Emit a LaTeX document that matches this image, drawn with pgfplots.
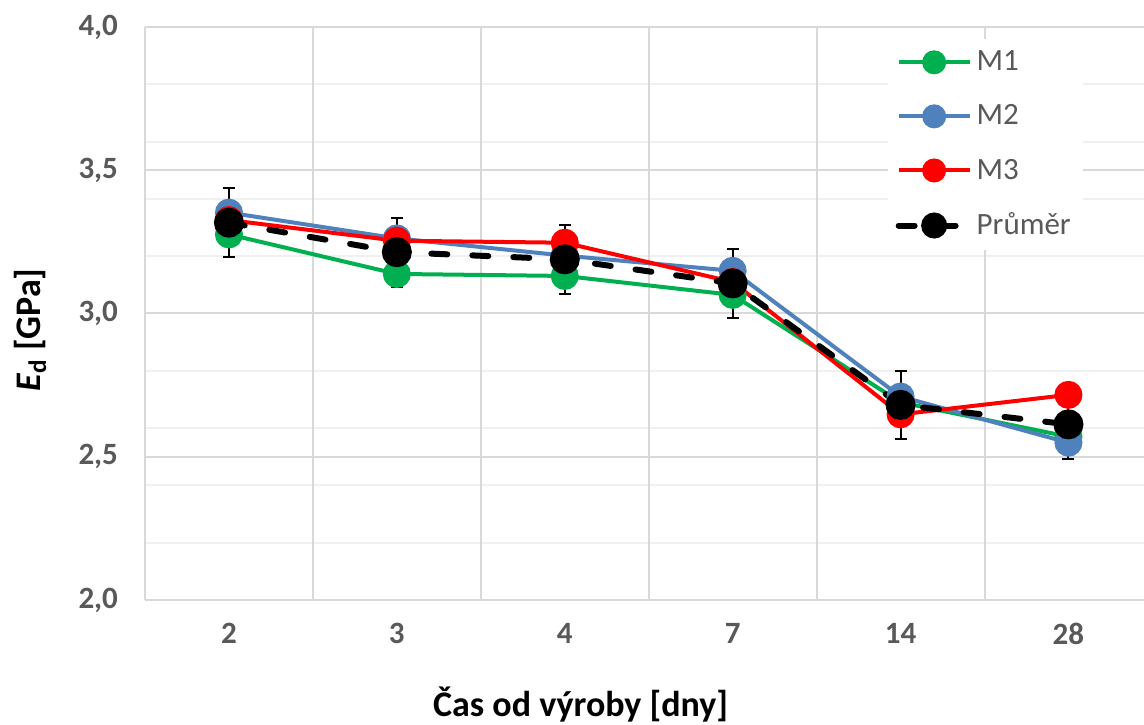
\documentclass[border=0pt]{standalone}
\usepackage{fontspec}
\setmainfont{Carlito}
\usepackage{pgfplots}
\pgfplotsset{compat=1.18}
\definecolor{cM1}{HTML}{00B050}
\definecolor{cM2}{HTML}{4F81BD}
\definecolor{cM3}{HTML}{FF0000}
\definecolor{txt}{HTML}{595959}
\definecolor{grd}{HTML}{D9D9D9}
\definecolor{grdm}{HTML}{F0F0F0}

\begin{document}
\begin{tikzpicture}
\begin{axis}[
    scale only axis,
    width=499.5pt, height=286.5pt,
    xmin=-0.5, xmax=5.45,
    ymin=2, ymax=4,
    axis x line*=bottom, axis y line*=left,
    axis line style={draw=grd, line width=1pt, -},
    tick style={draw=none},
    xtick={0,...,5},
    xticklabels={2,3,4,7,14,28},
    ytick={2,2.5,3,3.5,4},
    yticklabels={{2,0},{2,5},{3,0},{3,5},{4,0}},
    minor ytick={2.2,2.4,2.6,2.8,3.2,3.4,3.6,3.8},
    ymajorgrids=true, yminorgrids=true,
    major grid style={draw=grd, line width=1pt},
    minor grid style={draw=grdm, line width=1pt},
    extra x ticks={0.5,1.5,2.5,3.5,4.5},
    extra x tick labels={},
    extra x tick style={xmajorgrids=true, major grid style={draw=grd, line width=1pt}},
    ticklabel style={font=\fontsize{15.5}{18}\selectfont\bfseries, text=txt},
    xticklabel style={yshift=-8pt},
    yticklabel style={xshift=-10pt},
    xlabel={Čas od výroby [dny]},
    ylabel={\textit{E}\textsubscript{d} [GPa]},
    label style={font=\fontsize{18}{21}\selectfont\bfseries, text=black},
    xlabel style={at={(rel axis cs:0.436,-0.182)}, anchor=center},
    ylabel style={at={(rel axis cs:-0.115,0.471)}, anchor=center, rotate=0},
    legend cell align=left,
    legend style={
        at={(rel axis cs:0.743,0.98)}, anchor=north west,
        draw=none, fill=white,
        font=\fontsize{15.5}{18}\selectfont, text=txt,
        row sep=11.5pt, inner sep=4pt,
    },
    legend image code/.code={
        \draw[mark repeat=2, mark phase=2, mark size=5pt]
            plot coordinates {(0pt,0pt) (17.75pt,0pt) (35.5pt,0pt)};
    },
]

% error bars of the mean, drawn below all markers
\addplot[draw=none, forget plot,
    error bars/.cd, y dir=both, y explicit,
    error bar style={black, line width=1pt},
    error mark options={rotate=90, mark size=3pt, line width=1pt, black}]
    coordinates {
        (0,3.317) +- (0,0.12)
        (1,3.214) +- (0,0.12)
        (2,3.189) +- (0,0.12)
        (3,3.105) +- (0,0.12)
        (4,2.681) +- (0,0.12)
        (5,2.613) +- (0,0.12)
    };

\addplot[cM1, line width=2pt, mark=*, mark size=6pt, mark options={solid, fill=cM1}]
    coordinates {(0,3.276) (1,3.138) (2,3.131) (3,3.065) (4,2.690) (5,2.570)};
\addlegendentry{M1}

\addplot[cM2, line width=2pt, mark=*, mark size=6pt, mark options={solid, fill=cM2}]
    coordinates {(0,3.352) (1,3.262) (2,3.202) (3,3.149) (4,2.710) (5,2.549)};
\addlegendentry{M2}

\addplot[cM3, line width=2pt, mark=*, mark size=6pt, mark options={solid, fill=cM3}]
    coordinates {(0,3.326) (1,3.254) (2,3.247) (3,3.110) (4,2.648) (5,2.716)};
\addlegendentry{M3}

\addplot[black, line width=3pt, line cap=round, dash pattern=on 8pt off 12.5pt,
    mark=*, mark size=6pt, mark options={solid, fill=black}]
    coordinates {(0,3.317) (1,3.214) (2,3.189) (3,3.105) (4,2.681) (5,2.613)};
\addlegendentry{Průměr}

\end{axis}
\pgfresetboundingbox
\path ([shift={(-72.5pt,-62.5pt)}]current axis.south west)
    rectangle ([shift={(0pt,13.5pt)}]current axis.north east);
\end{tikzpicture}
\end{document}
